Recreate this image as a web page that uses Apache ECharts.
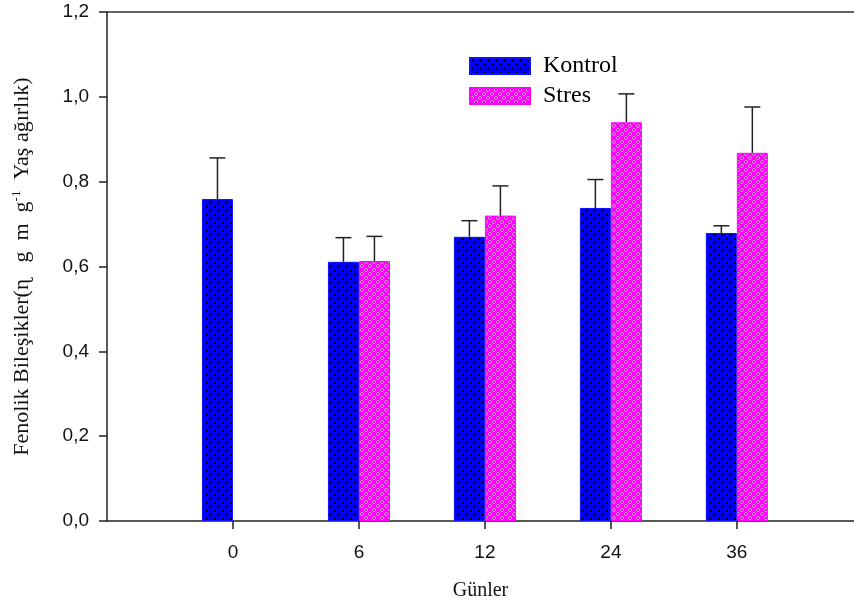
<!DOCTYPE html>
<html><head><meta charset="utf-8">
<script src="https://cdn.jsdelivr.net/npm/echarts@6/dist/echarts.min.js"></script>
<style>html,body{margin:0;padding:0;background:#fff}#c{width:854px;height:610px}</style>
</head><body><div id="c"></div>
<script>
var categories = ['0', '6', '12', '24', '36'];
var kontrol = [0.759, 0.611, 0.670, 0.738, 0.679];
var kontrolErr = [0.097, 0.057, 0.038, 0.067, 0.017];
var stres = [null, 0.613, 0.720, 0.940, 0.868];
var stresErr = [null, 0.058, 0.070, 0.067, 0.108];
var yTicks = ['0,0', '0,2', '0,4', '0,6', '0,8', '1,0', '1,2'];

function makeKontrolPattern() {
  var c = document.createElement('canvas'); c.width = 8; c.height = 8;
  var g = c.getContext('2d');
  g.fillStyle = '#0000ff'; g.fillRect(0, 0, 8, 8);
  g.fillStyle = '#000000';
  [[2, 2], [6, 6]].forEach(function (p) {
    g.fillRect(p[0] - 1, p[1], 3, 1);
    g.fillRect(p[0], p[1] - 1, 1, 3);
  });
  return c;
}
function makeStresPattern() {
  var c = document.createElement('canvas'); c.width = 8; c.height = 8;
  var g = c.getContext('2d');
  g.fillStyle = '#ff00ff'; g.fillRect(0, 0, 8, 8);
  g.fillStyle = '#c8a0c8';
  var px = [[1,0],[2,0],[0,1],[3,1],[0,2],[3,2],[1,3],[2,3],[5,4],[6,4],[4,5],[7,5],[4,6],[7,6],[5,7],[6,7]];
  px.forEach(function (p) { g.fillRect(p[0], p[1], 1, 1); });
  return c;
}
var kPat = { image: makeKontrolPattern(), repeat: 'repeat' };
var sPat = { image: makeStresPattern(), repeat: 'repeat' };

var xPos = categories.map(function (_, i) { return i + 1; });
function pairs(arr) { return arr.map(function (v, i) { return v == null ? [xPos[i], '-'] : [xPos[i], v]; }); }
function errData(vals, errs) {
  var out = [];
  vals.forEach(function (v, i) { if (v != null) out.push([xPos[i], v, v + errs[i]]); });
  return out;
}
function errSeries(vals, errs, off) {
  return {
    type: 'custom', silent: true, z: 5,
    data: errData(vals, errs),
    renderItem: function (params, api) {
      var b = api.coord([api.value(0), api.value(1)]);
      var t = api.coord([api.value(0), api.value(2)]);
      var x = b[0] + off;
      return { type: 'group', children: [
        { type: 'line', shape: { x1: x, y1: b[1], x2: x, y2: t[1] }, style: { stroke: '#222', lineWidth: 1.5 } },
        { type: 'line', shape: { x1: x - 8, y1: t[1], x2: x + 8, y2: t[1] }, style: { stroke: '#222', lineWidth: 1.5 } }
      ]};
    }
  };
}

var chart = echarts.init(document.getElementById('c'));
chart.setOption({
  animation: false,
  backgroundColor: '#fff',
  grid: { left: 107, right: 0, top: 12, bottom: 89 },
  legend: {
    orient: 'vertical', left: 464, top: 49, itemWidth: 60, itemHeight: 16, itemGap: 6,
    icon: 'rect',
    textStyle: { fontFamily: 'Liberation Serif', fontSize: 24, color: '#000', padding: [0, 0, 0, 8] },
    data: ['Kontrol', 'Stres']
  },
  xAxis: [{
    type: 'value', min: 0, max: 5.93, interval: 1,
    name: 'Günler', nameLocation: 'middle', nameGap: 60,
    nameTextStyle: { fontFamily: 'Liberation Serif', fontSize: 20, color: '#111' },
    splitLine: { show: false },
    axisLine: { lineStyle: { color: '#222', width: 1.5 } },
    axisTick: { length: 8, customValues: xPos, lineStyle: { color: '#222', width: 1.5 } },
    axisLabel: { margin: 22, fontFamily: 'Liberation Sans', fontSize: 19, color: '#111', customValues: xPos,
      formatter: function (v) { var i = Math.round(v) - 1; return (i >= 0 && i < categories.length) ? categories[i] : ''; } }
  }, {
    type: 'value', min: 0, max: 5.93, position: 'top',
    axisLine: { show: true, onZero: false, lineStyle: { color: '#333', width: 1.5 } },
    axisTick: { show: false }, axisLabel: { show: false }, splitLine: { show: false }
  }],
  yAxis: {
    type: 'value', min: 0, max: 1.2, interval: 0.2,
    name: 'Fenolik Bileşikler(ɳ   g  m  g{sup|-1}  Yaş ağırlık)',
    nameLocation: 'middle', nameGap: 72,
    nameTextStyle: { fontFamily: 'Liberation Serif', fontSize: 22, color: '#111',
      rich: { sup: { fontFamily: 'Liberation Serif', fontSize: 13, color: '#111', padding: [0, 0, 12, 0] } } },
    splitLine: { show: false },
    axisLine: { show: true, lineStyle: { color: '#222', width: 1.5 } },
    axisTick: { show: true, length: 8, lineStyle: { color: '#222', width: 1.5 } },
    axisLabel: { margin: 18, fontFamily: 'Liberation Sans', fontSize: 19, color: '#111',
      formatter: function (v) { return yTicks[Math.round(v / 0.2)]; } }
  },
  series: [
    { name: 'Kontrol', type: 'bar', barWidth: 31, barGap: '0%', data: pairs(kontrol),
      itemStyle: { color: kPat, borderColor: '#1010ff', borderWidth: 1 } },
    { name: 'Stres', type: 'bar', barWidth: 31, barGap: '0%', data: pairs(stres),
      itemStyle: { color: sPat, borderColor: '#ff00ff', borderWidth: 1 } },
    errSeries(kontrol, kontrolErr, -15.5),
    errSeries(stres, stresErr, 15.5)
  ]
});
</script></body></html>
